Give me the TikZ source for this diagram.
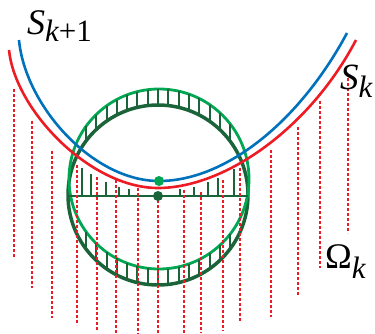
\documentclass[tikz,border=0pt]{standalone}
\usepackage{fontspec}
\newfontfamily\tim{Liberation Serif}
\begin{document}
\begin{tikzpicture}[x=1pt,y=-1pt,
  redc/.style={draw=myred,line width=2.6pt},
  bluec/.style={draw=myblue,line width=2.6pt},
  lgcirc/.style={draw=lgreen,line width=2.8pt},
  dgcirc/.style={draw=dgreen,line width=3.5pt},
  tick/.style={draw=dgreen,line width=2pt},
  dline/.style={draw=myred,line width=1.2pt,dash pattern=on 3pt off 2pt},
  lab/.style={anchor=base west,inner sep=0pt,font=\tim}]
\definecolor{myred}{RGB}{237,28,36}
\definecolor{myblue}{RGB}{0,114,188}
\definecolor{lgreen}{RGB}{0,166,81}
\definecolor{dgreen}{RGB}{27,100,58}
\useasboundingbox (0,0) rectangle (375,334);
% circles
\draw[dgcirc] (158,195) circle[radius=90];
\draw[lgcirc] (159,179) circle[radius=90];
% ticks between circles
\foreach \k in {-7,...,7}{
  \pgfmathsetmacro\xx{158+10.3*\k}
  \pgfmathsetmacro\ya{195-sqrt(8100-(\xx-158)^2)}
  \pgfmathsetmacro\yb{179-sqrt(8100-(\xx-159)^2)}
  \pgfmathsetmacro\yc{195+sqrt(8100-(\xx-158)^2)}
  \pgfmathsetmacro\yd{179+sqrt(8100-(\xx-159)^2)}
  \draw[tick] (\xx,\ya) -- (\xx,\yb);
  \draw[tick] (\xx,\yc) -- (\xx,\yd);
}
% horizontal diameter and ticks
\coordinate (hl) at (69,196);
\coordinate (hr) at (248,196);
\draw[tick] (hl) -- (hr);
\foreach \x/\t in {82/168,91/174,106/182,119/187,129/189,180/189,194/187,208/182,218/178,234/169}{
  \draw[tick] (\x,196) -- (\x,\t);
}
% dashed lines
\foreach \x/\a/\b in {14/89/257,32/121/288,52/151/318,77/165/325,97/177/330,116/180/336,138/188/336,158/200/336,184/190/336,201/192/333,223/180/331,240/168/322,271/150/317,298/127/295,320/101/268,348/78/233}{
  \draw[dline] (\x,\a) -- (\x,\b);
}
% curves
\draw[redc] (9,50) .. controls (15,110) and (90,188) .. (158,188)
                   .. controls (225,188) and (310,128) .. (356,40);
\draw[bluec] (19,40) .. controls (25,105) and (92,181) .. (159,181)
                   .. controls (226,181) and (300,121) .. (347,33);
% dots
\fill[lgreen] (159,181) circle[radius=5];
\fill[dgreen] (158,196) circle[radius=5];
% labels
\node[lab] (s1) at (27,35) {\fontsize{36}{36}\selectfont\itshape S\raisebox{-7pt}{\fontsize{31}{31}\selectfont k\upshape +1}};
\node[lab] (s0) at (340,90) {\fontsize{37}{37}\selectfont\itshape S\raisebox{-8pt}{\fontsize{31}{31}\selectfont k}};
\node[lab] (om) at (325,268) {\fontsize{36}{36}\selectfont Ω\raisebox{-10pt}{\fontsize{31}{31}\selectfont\itshape k}};
\end{tikzpicture}
\end{document}
